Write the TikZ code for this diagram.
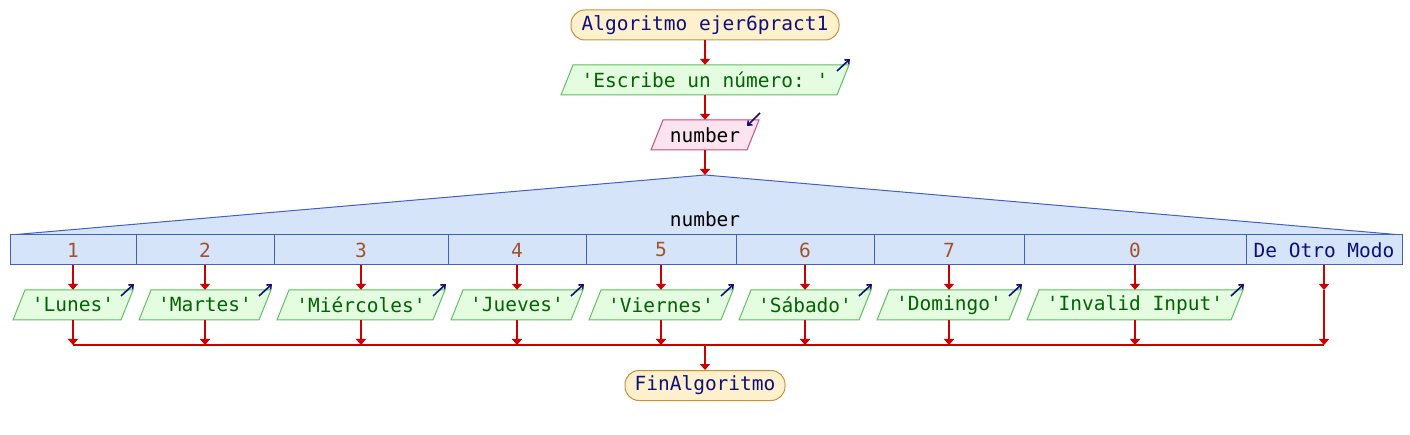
\documentclass[tikz,border=0pt]{standalone}
\usepackage{fontspec}
\setmonofont{DejaVu Sans Mono}
\usetikzlibrary{arrows.meta}
\definecolor{flowred}{HTML}{CC0000}
\definecolor{termfill}{HTML}{FDF0CC}
\definecolor{termdraw}{HTML}{C8903C}
\definecolor{navytxt}{HTML}{10107A}
\definecolor{outfill}{HTML}{E4FCE0}
\definecolor{outdraw}{HTML}{5CBE5C}
\definecolor{outtxt}{HTML}{006400}
\definecolor{infill}{HTML}{FCE4EE}
\definecolor{indraw}{HTML}{C8487A}
\definecolor{swfill}{HTML}{D6E4FA}
\definecolor{swdraw}{HTML}{4060C8}
\definecolor{casetxt}{HTML}{A0522D}
\tikzset{
  txt/.style={font=\ttfamily\fontsize{19.5pt}{23pt}\selectfont, inner sep=0pt},
  term/.style={txt, draw=termdraw, fill=termfill, line width=1pt, rounded corners=14pt, minimum height=30pt, text=navytxt},
  outshape/.style={draw=outdraw, fill=outfill, line width=1pt},
  inshape/.style={draw=indraw, fill=infill, line width=1pt},
  flow/.style={draw=flowred, line width=2pt, -{Triangle[width=10pt,length=6pt]}},
  flowline/.style={draw=flowred, line width=2pt},
  icon/.style={draw=navytxt, line width=1.6pt, -{Straight Barb[length=3.5pt,width=6pt]}},
  casebox/.style={txt, minimum height=30pt, text=casetxt},
}
% name, cx, cy, total width, shape style, text style, text
\newcommand\pgram[7]{%
  \path[#5] (#2-#4/2,#3+15) -- (#2+#4/2-12,#3+15) -- (#2+#4/2,#3-15) -- (#2-#4/2+12,#3-15) -- cycle;
  \node[txt, #6, minimum height=30pt, minimum width=#4pt-24pt] (#1) at (#2,#3) {#7};
}
\newcommand\outicon[3]{% cx cy width : icon at top right
  \draw[icon] (#1+#3/2-12,#2-9) -- (#1+#3/2+1,#2-21);
}
\begin{document}
\begin{tikzpicture}[x=1pt,y=-1pt]
\useasboundingbox (0,0) rectangle (1410,435);

% start
\node[term, minimum width=268pt] (start) at (705,25) {Algoritmo ejer6pract1};
\pgram{esc}{705}{80}{288}{outshape}{text=outtxt}{'Escribe un número: '}
\outicon{705}{80}{288}
\pgram{num}{705}{135}{108}{inshape}{text=black}{number}
\draw[icon] (760,113) -- (747,126);

% switch
\coordinate (apex) at (705,175);
\coordinate (swl) at (10,235);
\coordinate (swr) at (1402,235);
\path[fill=swfill, draw=swdraw, line width=1pt] (swl) -- (apex) -- (swr);
\node[txt, text=black] (swlabel) at (705,219) {number};
\draw[fill=swfill, draw=swdraw, line width=1pt] (10,235) rectangle (1402,265);
\foreach \x in {136,274,448,586,736,874,1024,1246}
  \draw[swdraw, line width=1pt] (\x,235) -- (\x,265);

\node[casebox] (c1) at (73,250) {1};
\node[casebox] (c2) at (205,250) {2};
\node[casebox] (c3) at (361,250) {3};
\node[casebox] (c4) at (517,250) {4};
\node[casebox] (c5) at (661,250) {5};
\node[casebox] (c6) at (805,250) {6};
\node[casebox] (c7) at (949,250) {7};
\node[casebox] (c8) at (1135,250) {0};
\node[casebox, text=navytxt] (c9) at (1324,250) {De Otro Modo};

% outputs
\pgram{o1}{73}{305}{120}{outshape}{text=outtxt}{'Lunes'}
\outicon{73}{305}{120}
\pgram{o2}{205}{305}{132}{outshape}{text=outtxt}{'Martes'}
\outicon{205}{305}{132}
\pgram{o3}{361}{305}{168}{outshape}{text=outtxt}{'Miércoles'}
\outicon{361}{305}{168}
\pgram{o4}{517}{305}{132}{outshape}{text=outtxt}{'Jueves'}
\outicon{517}{305}{132}
\pgram{o5}{661}{305}{144}{outshape}{text=outtxt}{'Viernes'}
\outicon{661}{305}{144}
\pgram{o6}{805}{305}{132}{outshape}{text=outtxt}{'Sábado'}
\outicon{805}{305}{132}
\pgram{o7}{949}{305}{144}{outshape}{text=outtxt}{'Domingo'}
\outicon{949}{305}{144}
\pgram{o8}{1135}{305}{216}{outshape}{text=outtxt}{'Invalid Input'}
\outicon{1135}{305}{216}

% end
\node[term, minimum width=160pt] (fin) at (705,385.5) {FinAlgoritmo};

% merge coordinates
\coordinate (m1) at (73,345);
\coordinate (m2) at (205,345);
\coordinate (m3) at (361,345);
\coordinate (m4) at (517,345);
\coordinate (m5) at (661,345);
\coordinate (m6) at (805,345);
\coordinate (m7) at (949,345);
\coordinate (m8) at (1135,345);
\coordinate (m9) at (1324,345);
\coordinate (mid) at (705,345);
\coordinate (d9) at (1324,290);

% connectors
\draw[flow] (start.south) -- (esc.north);
\draw[flow] (esc.south) -- (num.north);
\draw[flow] (num.south) -- (apex);
\foreach \i in {1,...,8} {
  \draw[flow] (c\i.south) -- (o\i.north);
  \draw[flow] (o\i.south) -- (m\i);
}
\draw[flow] (c9.south) -- (d9);
\draw[flow] (d9) -- (m9);
\draw[flowline] (m1) -- (m9);
\draw[flow] (mid) -- (fin.north);
\end{tikzpicture}
\end{document}
